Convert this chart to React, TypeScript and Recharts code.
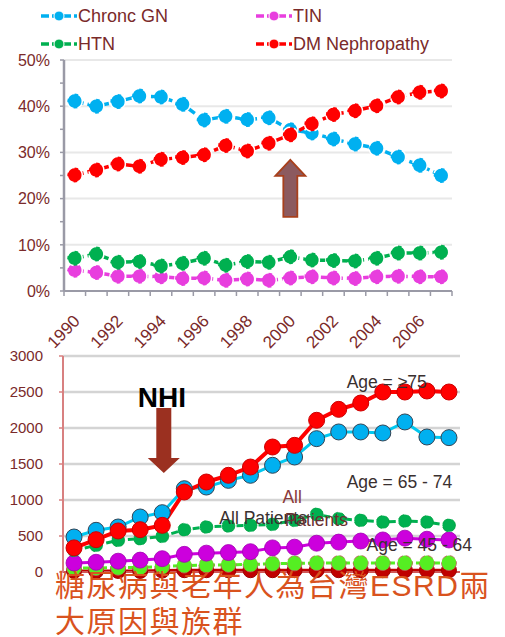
import React from 'react';
import { LineChart, Line, XAxis, YAxis, CartesianGrid, Legend, ReferenceDot } from 'recharts';

// ---------- data ----------
const years = [1990, 1991, 1992, 1993, 1994, 1995, 1996, 1997, 1998, 1999, 2000, 2001, 2002, 2003, 2004, 2005, 2006, 2007];
const yearLabels = [1990, 1992, 1994, 1996, 1998, 2000, 2002, 2004, 2006];

// top chart: share of new ESRD by primary disease (%)
const chronicGN = [41.1, 40.0, 41.0, 42.2, 42.0, 40.4, 37.0, 37.8, 37.1, 37.5, 34.9, 34.2, 32.9, 31.8, 30.9, 29.0, 27.2, 25.0];
const tin = [4.5, 4.0, 3.2, 3.2, 3.1, 2.7, 2.8, 2.3, 2.6, 2.3, 2.8, 3.1, 2.8, 2.7, 3.1, 3.2, 3.1, 3.1];
const htn = [7.1, 8.0, 6.2, 6.4, 5.4, 6.0, 7.1, 5.6, 6.4, 6.2, 7.4, 6.7, 6.6, 6.5, 7.1, 8.2, 8.2, 8.4];
const dmNeph = [25.1, 26.2, 27.5, 27.0, 28.5, 28.9, 29.5, 31.5, 30.3, 32.0, 33.8, 36.2, 38.2, 39.0, 40.1, 42.0, 43.0, 43.3];
const pctTicks = [0, 5, 10, 15, 20, 25, 30, 35, 40, 45, 50];
const pctGrid = [10, 20, 30, 40, 50];

// bottom chart: incidence by age group
const age75 = [335, 449, 570, 588, 648, 1111, 1250, 1343, 1458, 1736, 1759, 2107, 2259, 2347, 2500, 2500, 2514, 2500];
const age6574 = [486, 579, 625, 764, 824, 1157, 1180, 1273, 1343, 1482, 1597, 1852, 1945, 1945, 1931, 2084, 1875, 1866];
const allPatients = [300, 370, 440, 463, 495, 588, 625, 640, 648, 662, 718, 801, 741, 718, 694, 708, 694, 648];
const age4564 = [125, 135, 150, 165, 185, 245, 262, 270, 282, 335, 345, 400, 415, 430, 445, 470, 455, 445];
const age2044 = [55, 55, 60, 65, 75, 90, 95, 100, 105, 115, 120, 125, 125, 125, 125, 125, 125, 125];
const age019 = [15, 15, 15, 15, 20, 25, 25, 25, 25, 25, 25, 25, 25, 25, 25, 25, 25, 25];
const countTicks = [0, 500, 1000, 1500, 2000, 2500, 3000];
const countGrid = [500, 1000, 1500, 2000, 2500, 3000];

const topSeries = [
  { key: 'chronicGN', name: 'Chronc GN', color: '#00b0f0' },
  { key: 'tin', name: 'TIN', color: '#e83ede' },
  { key: 'htn', name: 'HTN', color: '#00b050' },
  { key: 'dmNeph', name: 'DM Nephropathy', color: '#ff0000' },
];

const bottomLabels = [
  { text: 'Age = \u226575', year: 2002.36, value: 2643, color: '#3a3030' },
  { text: 'Age = 65 - 74', year: 2002.36, value: 1254, color: '#3a3030' },
  { text: 'Age = 45 - 64', year: 2003.26, value: 375, color: '#3a3030' },
  { text: 'All Patients', year: 1996.59, value: 750, color: '#3a3030' },
  { text: 'All', year: 1999.45, value: 1042, color: '#8a3a3a' },
  { text: 'Patients', year: 1999.55, value: 722, color: '#6a3030' },
];

const caption = ['糖尿病與老年人為台灣ESRD兩', '大原因與族群'];

const topData = years.map((y, i) => ({
  year: y,
  chronicGN: chronicGN[i],
  tin: tin[i],
  htn: htn[i],
  dmNeph: dmNeph[i],
}));

const bottomData = years.map((y, i) => ({
  year: y,
  age75: age75[i],
  age6574: age6574[i],
  allPatients: allPatients[i],
  age4564: age4564[i],
  age2044: age2044[i],
  age019: age019[i],
}));

const xTicks = [...years.flatMap((y) => [y - 0.5, y]), years[years.length - 1] + 0.5];

const FONT = '"Liberation Sans", Arial, sans-serif';
const MAROON = '#7a2a2a';

// ---------- custom ticks ----------
const TopXTick = (props: any) => {
  const { x, y, payload } = props;
  const v = payload.value;
  if (!Number.isInteger(v)) {
    return <line x1={x} x2={x} y1={y} y2={y + 5} stroke="#9a9aa6" strokeWidth={1.5} />;
  }
  if (yearLabels.includes(v)) {
    const ax = x + 6;
    const ay = y + 31;
    return (
      <text x={ax} y={ay} textAnchor="end" transform={`rotate(-46 ${ax} ${ay})`} fill={MAROON} fontSize={17} fontFamily={FONT}>
        {v}
      </text>
    );
  }
  return <g />;
};

const TopYTick = (props: any) => {
  const { x, y, payload } = props;
  const v = payload.value;
  if (v % 10 !== 0) return <g />;
  return (
    <text x={x} y={y} dy="0.36em" textAnchor="end" fill={MAROON} fontSize={16} fontFamily={FONT}>
      {`${v}%`}
    </text>
  );
};

const BottomYTick = (props: any) => {
  const { x, y, payload } = props;
  return (
    <text x={x} y={y} dy="0.36em" textAnchor="end" fill={MAROON} fontSize={15} fontFamily={FONT}>
      {payload.value}
    </text>
  );
};

// ---------- legend ----------
const TopLegend = () => {
  const pos = [
    { left: 40, top: 1 },
    { left: 255, top: 1 },
    { left: 40, top: 29 },
    { left: 255, top: 29 },
  ];
  return (
    <div style={{ position: 'relative', width: 505, height: 60 }}>
      {topSeries.map((s, i) => (
        <div key={s.key} style={{ position: 'absolute', left: pos[i].left, top: pos[i].top, height: 30, display: 'flex', alignItems: 'center' }}>
          <svg width={38} height={14}>
            <line x1={1} x2={37} y1={7} y2={7} stroke={s.color} strokeWidth={3.5} strokeDasharray="8 3" />
            <circle cx={19} cy={7} r={5} fill={s.color} stroke="#fff" strokeWidth={1} />
          </svg>
          <span style={{ color: MAROON, fontSize: 18, fontFamily: FONT, marginLeft: 0, whiteSpace: 'nowrap' }}>{s.name}</span>
        </div>
      ))}
    </div>
  );
};

// ---------- annotation shapes ----------
const UpArrow = (props: any) => {
  const { cx, cy } = props;
  const d = `M ${cx} ${cy} L ${cx + 15} ${cy + 16} L ${cx + 7} ${cy + 16} L ${cx + 7} ${cy + 57} L ${cx - 7} ${cy + 57} L ${cx - 7} ${cy + 16} L ${cx - 15} ${cy + 16} Z`;
  return <path d={d} fill="#8c5a5f" stroke="#a8401c" strokeWidth={1.8} />;
};

const DownArrow = (props: any) => {
  const { cx, cy } = props;
  const d = `M ${cx} ${cy} L ${cx - 16} ${cy - 15} L ${cx - 7.5} ${cy - 15} L ${cx - 7.5} ${cy - 65} L ${cx + 7.5} ${cy - 65} L ${cx + 7.5} ${cy - 15} L ${cx + 16} ${cy - 15} Z`;
  return <path d={d} fill="#9b3020" />;
};

const makeText = (text: string, color: string, size: number, weight: number | string, anchor: string) => (props: any) => (
  <text x={props.cx} y={props.cy} dy="0.36em" textAnchor={anchor} fill={color} fontSize={size} fontWeight={weight} fontFamily={FONT}>
    {text}
  </text>
);

export default function App() {
  return (
    <div style={{ position: 'absolute', left: 0, top: 0, width: 505, height: 637, background: '#fff', overflow: 'hidden' }}>
      {/* top chart */}
      <div style={{ position: 'absolute', left: 0, top: 0 }}>
        <LineChart width={505} height={362} data={topData} margin={{ top: 0, right: 53, left: 0, bottom: 0 }}>
          <Legend verticalAlign="top" align="left" height={60} content={() => <TopLegend />} wrapperStyle={{ top: 0, left: 0, width: 505 }} />
          <CartesianGrid vertical={false} horizontalValues={pctGrid} stroke="#e8e8e8" strokeWidth={2} />
          <XAxis
            dataKey="year"
            type="number"
            domain={[1989.5, 2007.5]}
            ticks={xTicks}
            interval={0}
            tickSize={0}
            tickMargin={0}
            tickLine={false}
            tick={<TopXTick />}
            height={71}
            axisLine={{ stroke: '#9a9aa6', strokeWidth: 2 }}
          />
          <YAxis
            type="number"
            domain={[0, 50]}
            ticks={pctTicks}
            interval={0}
            width={64}
            tickSize={4}
            tickMargin={10}
            tick={<TopYTick />}
            tickLine={{ stroke: '#9a9aa6', strokeWidth: 1.5 }}
            axisLine={{ stroke: '#9a9aa6', strokeWidth: 2.5 }}
          />
          <Line dataKey="tin" name="TIN" stroke="#e83ede" strokeWidth={3.5} strokeDasharray="9 4" dot={{ r: 7.5, fill: '#e83ede', stroke: '#fff', strokeWidth: 1.5 }} isAnimationActive={false} />
          <Line dataKey="htn" name="HTN" stroke="#00b050" strokeWidth={3.5} strokeDasharray="9 4" dot={{ r: 7.5, fill: '#00b050', stroke: '#fff', strokeWidth: 1.5 }} isAnimationActive={false} />
          <Line dataKey="chronicGN" name="Chronc GN" stroke="#00b0f0" strokeWidth={3.5} strokeDasharray="9 4" dot={{ r: 7.5, fill: '#00b0f0', stroke: '#fff', strokeWidth: 1.5 }} isAnimationActive={false} />
          <Line dataKey="dmNeph" name="DM Nephropathy" stroke="#ff0000" strokeWidth={3.5} strokeDasharray="9 4" dot={{ r: 7.5, fill: '#ff0000', stroke: '#fff', strokeWidth: 1.5 }} isAnimationActive={false} />
          <ReferenceDot x={2000} y={28.4} r={0} shape={UpArrow} />
        </LineChart>
      </div>

      {/* bottom chart */}
      <div style={{ position: 'absolute', left: 0, top: 340 }}>
        <LineChart width={505} height={240} data={bottomData} margin={{ top: 16, right: 45, left: 0, bottom: 0 }}>
          <CartesianGrid vertical={false} horizontalValues={countGrid} stroke="#d4d4d4" strokeWidth={2.5} />
          <XAxis
            dataKey="year"
            type="number"
            domain={[1989.5, 2007.5]}
            ticks={years}
            tick={false}
            tickLine={false}
            height={8}
            axisLine={{ stroke: '#d05858', strokeWidth: 2 }}
          />
          <YAxis
            type="number"
            domain={[0, 3000]}
            ticks={countTicks}
            interval={0}
            width={63}
            tickSize={4}
            tickMargin={16}
            tick={<BottomYTick />}
            tickLine={{ stroke: '#d88080', strokeWidth: 1.5 }}
            axisLine={{ stroke: '#d88080', strokeWidth: 2 }}
          />
          <Line dataKey="age019" stroke="#c00000" strokeWidth={3} dot={{ r: 7.5, fill: '#c00000', stroke: '#a00000', strokeWidth: 1 }} isAnimationActive={false} />
          <Line dataKey="age2044" stroke="#55ee22" strokeWidth={3} strokeDasharray="6 3" dot={{ r: 7.5, fill: '#55ee22', stroke: '#c06060', strokeWidth: 0.8 }} isAnimationActive={false} />
          <Line dataKey="age4564" stroke="#cc00dd" strokeWidth={3} dot={{ r: 8, fill: '#cc00dd', stroke: '#a000b0', strokeWidth: 0.8 }} isAnimationActive={false} />
          <Line dataKey="allPatients" stroke="#00b050" strokeWidth={3} strokeDasharray="7 4" dot={{ r: 6.5, fill: '#00b050', stroke: '#00a040', strokeWidth: 0.8 }} isAnimationActive={false} />
          <Line dataKey="age6574" stroke="#00c8f0" strokeWidth={3} dot={{ r: 8, fill: '#00b0f0', stroke: '#334455', strokeWidth: 1 }} isAnimationActive={false} />
          <Line dataKey="age75" stroke="#ff0000" strokeWidth={4} dot={{ r: 8, fill: '#ff0000', stroke: '#cc0000', strokeWidth: 1 }} isAnimationActive={false} />
          <ReferenceDot x={1994.07} y={1375} r={0} shape={DownArrow} />
          <ReferenceDot x={1993.98} y={2430} r={0} shape={makeText('NHI', '#000', 28, 'bold', 'middle')} />
          {bottomLabels.map((l) => (
            <ReferenceDot key={l.text + l.year} x={l.year} y={l.value} r={0} shape={makeText(l.text, l.color, 17.5, 'normal', 'start')} />
          ))}
        </LineChart>
      </div>

      {/* caption */}
      <div
        style={{
          position: 'absolute',
          left: 55,
          top: 568,
          fontSize: 30,
          lineHeight: '36px',
          letterSpacing: 1.5,
          color: '#d9531e',
          fontFamily: '"Liberation Sans", "Noto Sans CJK TC", sans-serif',
          whiteSpace: 'nowrap',
        }}
      >
        {caption.map((c) => (
          <div key={c}>{c}</div>
        ))}
      </div>
    </div>
  );
}
